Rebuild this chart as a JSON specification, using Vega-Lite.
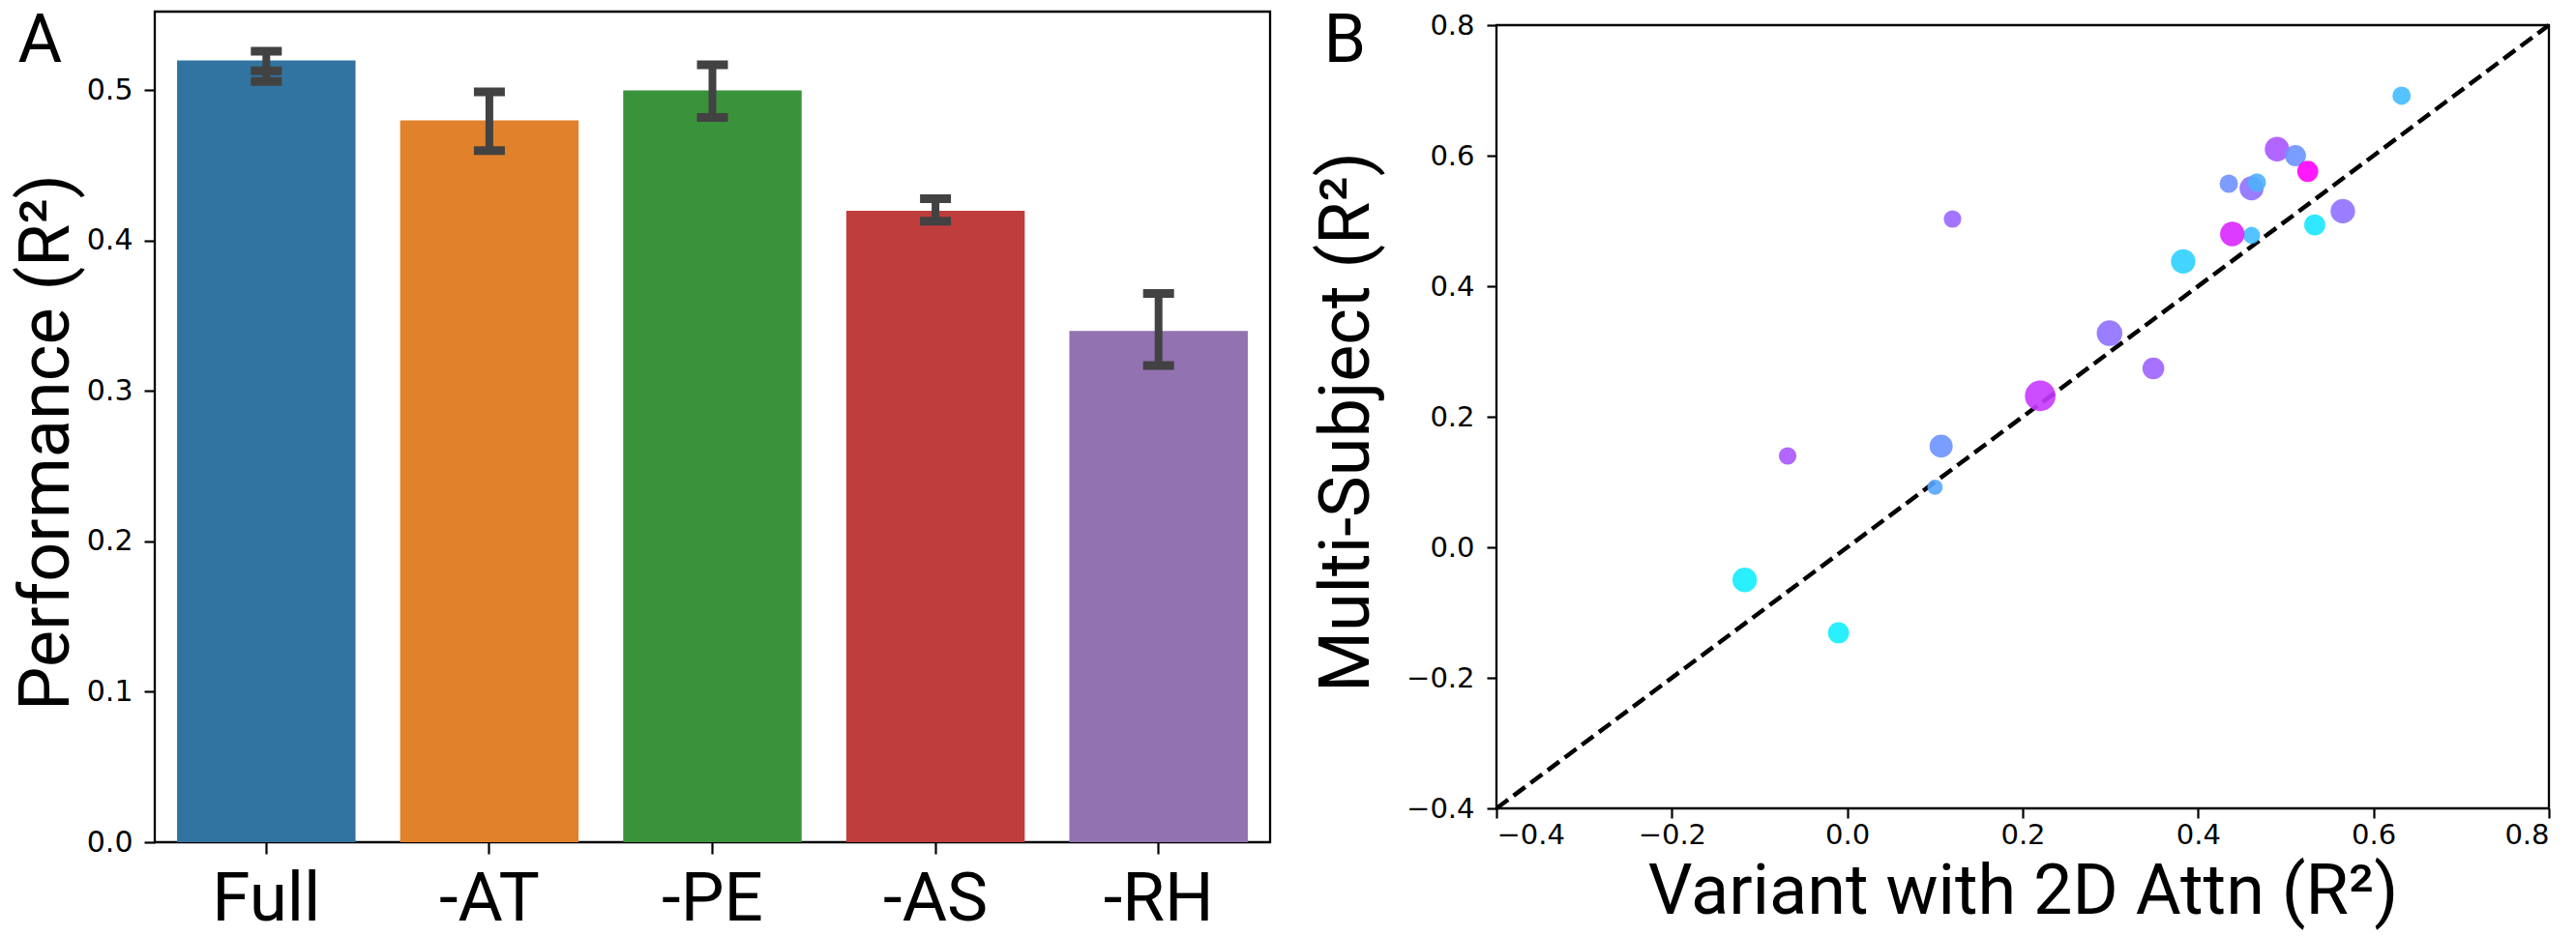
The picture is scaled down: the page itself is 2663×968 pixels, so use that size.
{
  "$schema": "https://vega.github.io/schema/vega-lite/v6.json",
  "background": "white",
  "padding": {"left": 11, "top": 5, "right": 0, "bottom": 0},
  "autosize": {"type": "pad"},
  "config": {
    "view": {"stroke": "black", "strokeWidth": 2.3},
    "axis": {"grid": false, "domain": false, "tickColor": "black", "tickWidth": 2.2, "tickSize": 11, "labelColor": "black", "titleColor": "black", "labelFont": "DejaVu Sans", "titleFont": "Roboto", "titleFontWeight": "normal"}
  },
  "datasets": {
    "bars": [
      {"cat": "Full", "v": 0.52, "lo": 0.506, "hi": 0.526},
      {"cat": "-AT", "v": 0.48, "lo": 0.46, "hi": 0.499},
      {"cat": "-PE", "v": 0.50, "lo": 0.482, "hi": 0.517},
      {"cat": "-AS", "v": 0.42, "lo": 0.413, "hi": 0.428},
      {"cat": "-RH", "v": 0.34, "lo": 0.317, "hi": 0.365}
    ],
    "caps": [
      {"cat": "Full", "v": 0.526}, {"cat": "Full", "v": 0.513}, {"cat": "Full", "v": 0.506},
      {"cat": "-AT", "v": 0.499}, {"cat": "-AT", "v": 0.46},
      {"cat": "-PE", "v": 0.517}, {"cat": "-PE", "v": 0.482},
      {"cat": "-AS", "v": 0.428}, {"cat": "-AS", "v": 0.413},
      {"cat": "-RH", "v": 0.365}, {"cat": "-RH", "v": 0.317}
    ],
    "pts": [
      {"x": 0.632, "y": 0.692, "c": 0.26, "w": 0.36},
      {"x": 0.490, "y": 0.610, "c": 0.66, "w": 0.64},
      {"x": 0.511, "y": 0.600, "c": 0.42, "w": 0.475},
      {"x": 0.525, "y": 0.576, "c": 1.0, "w": 0.475},
      {"x": 0.435, "y": 0.557, "c": 0.43, "w": 0.36},
      {"x": 0.461, "y": 0.550, "c": 0.56, "w": 0.62},
      {"x": 0.467, "y": 0.559, "c": 0.31, "w": 0.36},
      {"x": 0.565, "y": 0.515, "c": 0.56, "w": 0.64},
      {"x": 0.533, "y": 0.494, "c": 0.10, "w": 0.475},
      {"x": 0.461, "y": 0.478, "c": 0.26, "w": 0.31},
      {"x": 0.439, "y": 0.480, "c": 0.85, "w": 0.64},
      {"x": 0.383, "y": 0.438, "c": 0.185, "w": 0.64},
      {"x": 0.299, "y": 0.328, "c": 0.56, "w": 0.70},
      {"x": 0.349, "y": 0.274, "c": 0.61, "w": 0.51},
      {"x": -0.068, "y": 0.140, "c": 0.66, "w": 0.33},
      {"x": -0.117, "y": -0.050, "c": 0.07, "w": 0.64},
      {"x": -0.010, "y": -0.131, "c": 0.07, "w": 0.475},
      {"x": 0.120, "y": 0.503, "c": 0.60, "w": 0.33},
      {"x": 0.220, "y": 0.232, "c": 0.78, "w": 1.0},
      {"x": 0.107, "y": 0.155, "c": 0.42, "w": 0.57},
      {"x": 0.100, "y": 0.092, "c": 0.35, "w": 0.25}
    ],
    "diag": [{"x": -0.4, "y": -0.4}, {"x": 0.8, "y": 0.8}],
    "blank": [{"k": 1}]
  },
  "bounds": "flush",
  "spacing": 234,
  "hconcat": [
    {
      "width": 1153,
      "height": 859,
      "data": {"name": "bars"},
      "encoding": {
        "x": {"field": "cat", "type": "nominal", "sort": null, "scale": {"paddingInner": 0.2, "paddingOuter": 0.1},
              "axis": {"title": "A", "titleX": -142, "titleY": -808, "titleAlign": "left", "titleBaseline": "alphabetic", "titleAngle": 0, "titleFontSize": 70,
                       "labelAngle": 0, "labelFont": "Roboto", "labelFontSize": 71, "labelPadding": 12, "tickSize": 12}}
      },
      "layer": [
        {
          "mark": {"type": "bar"},
          "encoding": {
            "y": {"field": "v", "type": "quantitative", "scale": {"domain": [0, 0.5524], "nice": false},
                  "axis": {"title": "Performance (R²)", "values": [0, 0.1, 0.2, 0.3, 0.4, 0.5], "format": ".1f", "labelFontSize": 30, "labelPadding": 12, "titleFontSize": 72, "titlePadding": 4, "titleY": 445}},
            "color": {"field": "cat", "type": "nominal", "sort": null,
                      "scale": {"domain": ["Full", "-AT", "-PE", "-AS", "-RH"], "range": ["#3274a1", "#e1812c", "#3a923a", "#c03d3e", "#9372b2"]}, "legend": null}
          }
        },
        {
          "mark": {"type": "rule", "color": "#424242", "strokeWidth": 8},
          "encoding": {
            "y": {"field": "lo", "type": "quantitative"},
            "y2": {"field": "hi"}
          }
        },
        {
          "data": {"name": "caps"},
          "mark": {"type": "tick", "color": "#424242", "thickness": 9, "size": 32, "opacity": 1},
          "encoding": {
            "x": {"field": "cat", "type": "nominal", "sort": null},
            "y": {"field": "v", "type": "quantitative"}
          }
        }
      ]
    },
    {
      "bounds": "flush",
      "spacing": 0,
      "vconcat": [
        {
          "width": 1088,
          "height": 14,
          "view": {"stroke": null},
          "data": {"name": "blank"},
          "mark": {"type": "point", "opacity": 0},
          "encoding": {}
        },
        {
          "width": 1088,
          "height": 810,
          "resolve": {"axis": {"x": "independent"}},
          "layer": [
            {
              "data": {"name": "diag"},
              "mark": {"type": "line", "color": "black", "strokeWidth": 4.5, "strokeDash": [15, 7]},
              "encoding": {
                "x": {"field": "x", "type": "quantitative", "scale": {"domain": [-0.4, 0.8], "nice": false, "zero": false},
                      "axis": {"title": "Variant with 2D Attn (R²)", "values": [-0.4, -0.2, 0, 0.2, 0.4, 0.6, 0.8], "format": ".1f", "labelFontSize": 29, "labelPadding": 3, "tickSize": 10, "titleFontSize": 72, "titlePadding": 9}},
                "y": {"field": "y", "type": "quantitative", "scale": {"domain": [-0.4, 0.8], "nice": false, "zero": false},
                      "axis": {"title": "Multi-Subject (R²)", "values": [-0.4, -0.2, 0, 0.2, 0.4, 0.6, 0.8], "format": ".1f", "labelFontSize": 29, "labelPadding": 13, "tickSize": 10, "titleFontSize": 72, "titlePadding": 24, "titleY": 410}}
              }
            },
            {
              "data": {"name": "pts"},
              "mark": {"type": "point", "filled": true, "shape": "circle", "opacity": 0.9},
              "encoding": {
                "x": {"field": "x", "type": "quantitative",
                      "axis": {"orient": "top", "labels": false, "ticks": false, "domain": false, "title": "B", "titleX": -179, "titleY": 37, "titleAlign": "left", "titleBaseline": "alphabetic", "titleAngle": 0, "titleFontSize": 70, "titleFont": "Roboto"}},
                "y": {"field": "y", "type": "quantitative"},
                "color": {"field": "c", "type": "quantitative", "scale": {"domain": [0, 1], "range": ["#00ffff", "#ff00ff"], "interpolate": "rgb"}, "legend": null},
                "size": {"field": "w", "type": "quantitative", "scale": {"domain": [0, 1], "range": [0, 1000]}, "legend": null}
              }
            }
          ]
        }
      ]
    }
  ]
}
